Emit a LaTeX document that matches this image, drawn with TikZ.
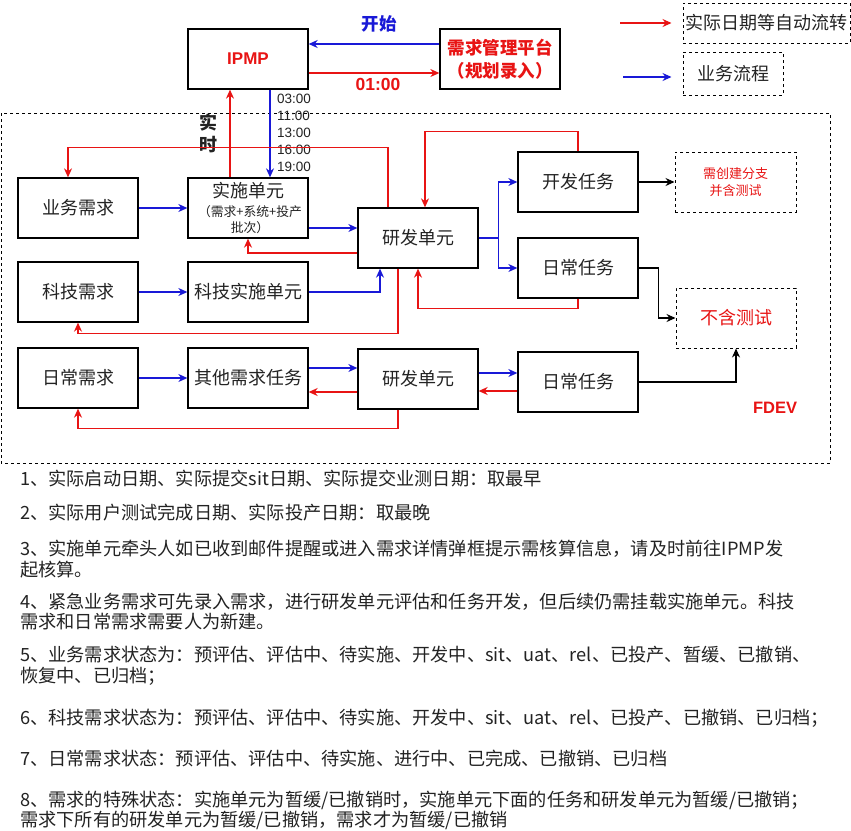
\documentclass[tikz,border=0pt]{standalone}
\usepackage{fontspec}
\setmainfont{Noto Sans CJK SC}
\newfontfamily\lat{Liberation Sans}
\usetikzlibrary{arrows.meta}
\definecolor{cred}{RGB}{232,20,20}
\definecolor{cblue}{RGB}{25,25,215}
\definecolor{ctext}{RGB}{35,35,35}
\tikzset{
  box/.style={draw=black, line width=1.3pt, minimum width=120pt, minimum height=60pt, inner sep=0pt, align=center, text=ctext, font=\fontsize{18}{22}\selectfont},
  nbox/.style={draw=black, line width=1pt, dash pattern=on 3pt off 3pt, inner sep=0pt, align=center},
  tip/.style={-{Stealth[length=9pt,width=8pt]}},
  ra/.style={draw=cred, line width=1.2pt, tip},
  ba/.style={draw=cblue, line width=1.2pt, tip},
  ka/.style={draw=black, line width=1.2pt, tip},
  note/.style={anchor=west, inner sep=0pt, text=ctext, font=\fontsize{18.2}{21}\selectfont},
}
\begin{document}
\begin{tikzpicture}[x=1pt,y=-1pt]
\useasboundingbox (0,0) rectangle (851,830);
\fill[white] (0,0) rectangle (851,830);
% FDEV region
\draw[line width=1pt, dash pattern=on 3pt off 3pt] (1,113) rectangle (830,463);
\node[text=cred, font=\lat\bfseries\fontsize{16.5}{20}\selectfont] (fdev) at (775,408) {FDEV};

% top boxes
\node[box, text=cred, font=\lat\bfseries\fontsize{17}{20}\selectfont] (ipmp) at (248,59) {IPMP};
\node[box, text=cred, font=\bfseries\fontsize{17.5}{23}\selectfont] (xqgl) at (500,59) {需求管理平台\\（规划录入）};

% legend
\node[nbox, minimum width=167pt, minimum height=40pt, font=\fontsize{18}{22}\selectfont, text=ctext] (lg1) at (766.5,23) {实际日期等自动流转};
\node[nbox, minimum width=100pt, minimum height=43pt, font=\fontsize{18}{22}\selectfont, text=ctext] (lg2) at (733,73.5) {业务流程};
\coordinate (la1) at (620,23);
\coordinate (la2) at (623,77);
\draw[ra] (la1) -- ([xshift=-11pt]lg1.west);
\draw[ba] (la2) -- ([xshift=-11pt,yshift=-3.5pt]lg2.west);

% row 1
\node[box] (yw) at (78,208) {业务需求};
\node[box] (ss) at (248,208) {};
\node[text=ctext, font=\fontsize{18}{22}\selectfont, inner sep=0pt] (sst) at (248,191) {实施单元};
\node[text=ctext, font=\fontsize{12.8}{16}\selectfont, inner sep=0pt, align=center] (sss) at (250,220) {（需求+系统+投产\\批次）};
\node[box] (yf1) at (418,238) {研发单元};
\node[box] (kf) at (578,182) {开发任务};
\node[box] (rc1) at (578,268) {日常任务};
\node[nbox, minimum width=121pt, minimum height=60pt, text=cred, font=\fontsize{13}{17}\selectfont] (n1) at (735.5,182) {需创建分支\\并含测试};
\node[nbox, minimum width=120pt, minimum height=60pt, text=cred, font=\fontsize{18}{22}\selectfont] (n2) at (736,318) {不含测试};

% row 2
\node[box] (kj) at (78,292) {科技需求};
\node[box] (kjss) at (248,292) {科技实施单元};

% row 3
\node[box] (rcxq) at (78,378) {日常需求};
\node[box] (qt) at (248,378) {其他需求任务};
\node[box] (yf2) at (418,379) {研发单元};
\node[box] (rc2) at (578,382) {日常任务};

% top labels
\node[text=cblue, font=\bfseries\fontsize{17.5}{20}\selectfont] (ks) at (379,24) {开始};
\node[text=cred, font=\lat\bfseries\fontsize{17.5}{20}\selectfont] (t0100) at (378,84) {01:00};
\node[text=ctext, font=\lat\fontsize{13.5}{17}\selectfont, align=left, inner sep=0pt, anchor=north west] (times) at (277,93.5) {03:00\\11:00\\13:00\\16:00\\19:00};
\node[text=ctext, font=\bfseries\fontsize{18}{22}\selectfont, align=center, inner sep=0pt] (ssl) at (208,133) {实\\时};

% top connectors
\draw[ba] ([yshift=15pt]xqgl.west) -- ([yshift=15pt]ipmp.east);
\draw[ra] ([yshift=-14pt]ipmp.east) -- ([yshift=-14pt]xqgl.west);
\draw[ba] ([xshift=22pt]ipmp.south) -- ([xshift=22pt]ss.north);
\draw[ra] ([xshift=-18pt]ss.north) -- ([xshift=-18pt]ipmp.south);

% row 1 connectors
\draw[ba] (yw.east) -- (ss.west);
\draw[ba] ([yshift=-20pt]ss.east) -- ([yshift=-20pt]ss.east -| yf1.west);
\draw[ra] ([yshift=-15pt]yf1.west) -| (ss.south);
\draw[ra] ([xshift=-30pt]yf1.north) -- ++(0,-60) -| ([xshift=-10pt]yw.north);
\draw[ra] (kf.north) -- ++(0,-20) -| ([xshift=7pt]yf1.north);
\draw[ba] (yf1.east) -- ++(20,0) |- (kf.west);
\draw[ba] (yf1.east) -- ++(20,0) |- (rc1.west);
\draw[ka] (kf.east) -- (n1.west);
\draw[ka] (rc1.east) -- ++(20,0) |- (n2.west);
\draw[ra] (rc1.south) -- ++(0,10) -| (yf1.south);

% row 2 connectors
\draw[ba] (kj.east) -- (kjss.east -| kjss.west);
\draw[ba] (kjss.east) -| ([xshift=-38pt]yf1.south);
\draw[ra] ([xshift=-20pt]yf1.south) -- ++(0,65) -| (kj.south);

% row 3 connectors
\draw[ba] (rcxq.east) -- (qt.west);
\draw[ba] ([yshift=10pt]qt.east) -- ([yshift=10pt]qt.east -| yf2.west);
\draw[ra] ([yshift=-13pt]yf2.west) -- ([yshift=-13pt]yf2.west -| qt.east);
\draw[ba] ([yshift=6pt]yf2.east) -- ([yshift=6pt]yf2.east -| rc2.west);
\draw[ra] ([yshift=-9pt]rc2.west) -- ([yshift=-9pt]rc2.west -| yf2.east);
\draw[ra] ([xshift=-20pt]yf2.south) -- ++(0,19) -| (rcxq.south);
\draw[ka] (rc2.east) -| (n2.south);

% notes
\node[note] (l1) at (20,479) {1、实际启动日期、实际提交sit日期、实际提交业测日期：取最早};
\node[note] (l2) at (20,513) {2、实际用户测试完成日期、实际投产日期：取最晚};
\node[note] (l3) at (20,549) {3、实施单元牵头人如已收到邮件提醒或进入需求详情弹框提示需核算信息，请及时前往IPMP发};
\node[note] (l3b) at (20,570) {起核算。};
\node[note] (l4) at (20,602) {4、紧急业务需求可先录入需求，进行研发单元评估和任务开发，但后续仍需挂载实施单元。科技};
\node[note] (l4b) at (20,622) {需求和日常需求需要人为新建。};
\node[note] (l5) at (20,655) {5、业务需求状态为：预评估、评估中、待实施、开发中、sit、uat、rel、已投产、暂缓、已撤销、};
\node[note] (l5b) at (20,676) {恢复中、已归档；};
\node[note] (l6) at (20,718) {6、科技需求状态为：预评估、评估中、待实施、开发中、sit、uat、rel、已投产、已撤销、已归档；};
\node[note] (l7) at (20,759) {7、日常需求状态：预评估、评估中、待实施、进行中、已完成、已撤销、已归档};
\node[note] (l8) at (20,800) {8、需求的特殊状态：实施单元为暂缓/已撤销时，实施单元下面的任务和研发单元为暂缓/已撤销；};
\node[note] (l8b) at (20,820) {需求下所有的研发单元为暂缓/已撤销，需求才为暂缓/已撤销};
\end{tikzpicture}
\end{document}
